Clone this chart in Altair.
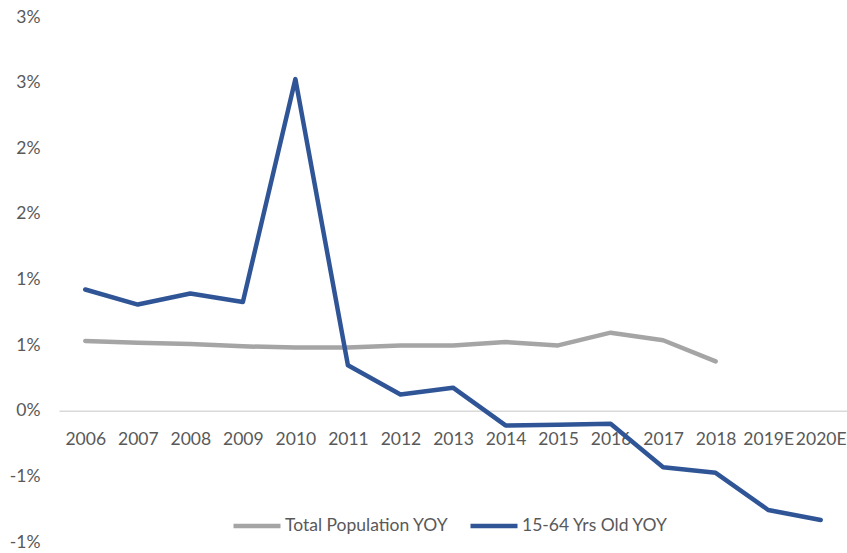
import altair as alt
import pandas as pd

years = ["2006", "2007", "2008", "2009", "2010", "2011", "2012", "2013",
         "2014", "2015", "2016", "2017", "2018", "2019E", "2020E"]
total_pop = [0.531, 0.519, 0.508, 0.491, 0.481, 0.481, 0.498, 0.498,
             0.524, 0.498, 0.595, 0.537, 0.376]
working_age = [0.924, 0.809, 0.893, 0.829, 2.527, 0.346, 0.124, 0.176,
               -0.112, -0.107, -0.099, -0.431, -0.473, -0.756, -0.832]
series_names = ["Total Population YOY", "15-64 Yrs Old YOY"]
series_colors = ["#A5A5A5", "#2F5597"]
y_ticks = [-0.01, -0.005, 0.0, 0.005, 0.01, 0.015, 0.02, 0.025, 0.03]

rows = []
for yr, v in zip(years, total_pop):
    rows.append({"year": yr, "series": series_names[0], "value": v / 100})
for yr, v in zip(years, working_age):
    rows.append({"year": yr, "series": series_names[1], "value": v / 100})
df = pd.DataFrame(rows)

FONT = "Lato"
FS = 17.5
TXT = "#595959"
W, H = 788, 525

x_enc = alt.X("year:O", sort=years,
              scale=alt.Scale(type="point", padding=0.5, domain=years),
              axis=alt.Axis(title=None, labelAngle=0, orient="bottom",
                            offset=-131.25, domainColor="#D9D9D9",
                            domainWidth=1.5, ticks=False, tickSize=0,
                            labelPadding=20, labelFont=FONT, labelFontSize=FS,
                            labelColor=TXT, labelOverlap=False,
                            labelFlush=False, grid=False))
y_enc = alt.Y("value:Q",
              scale=alt.Scale(domain=[-0.01, 0.03], nice=False, zero=False),
              axis=alt.Axis(title=None, values=y_ticks, domain=False,
                            ticks=False, grid=False, labelPadding=19,
                            labelFont=FONT, labelFontSize=FS, labelColor=TXT,
                            labelExpr="datum.value < 0 ? '-' + format(-datum.value, '.0%') : format(datum.value, '.0%')"))

lines = alt.Chart(df).mark_line(strokeWidth=4.5, strokeCap="round",
                                strokeJoin="round").encode(
    x=x_enc,
    y=y_enc,
    color=alt.Color("series:N", sort=series_names,
                    scale=alt.Scale(domain=series_names, range=series_colors),
                    legend=alt.Legend(title=None, orient="none",
                                      direction="horizontal",
                                      legendX=172, legendY=483,
                                      symbolType="stroke", symbolSize=2209,
                                      symbolStrokeWidth=4.5,
                                      labelFont=FONT, labelFontSize=FS,
                                      labelColor=TXT, labelOffset=2,
                                      labelLimit=400,
                                      columnPadding=12)),
    order=alt.Order("series:N"),
)

chart = lines.properties(
    width=W, height=H,
    padding={"left": 59, "top": 17, "right": 0, "bottom": 11},
    autosize=alt.AutoSizeParams(type="none"),
    background="white",
).configure_view(strokeWidth=0, stroke="transparent")

chart.save("out.html", embed_options={"renderer": "svg", "actions": False})
